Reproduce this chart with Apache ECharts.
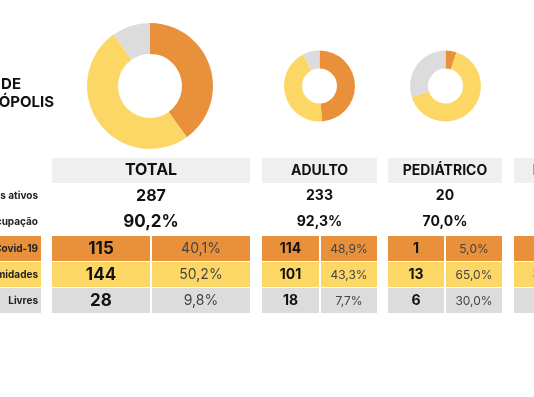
<!DOCTYPE html>
<html>
<head>
<meta charset="utf-8">
<style>
    html, body { margin: 0; padding: 0; background: #fff; }
    #leitos-chart { width: 534px; height: 397px; }
</style>
</head>
<body>
<div id="leitos-chart"></div>
<script src="https://cdn.jsdelivr.net/npm/echarts@6/dist/echarts.min.js"></script>
<script>
    var grupos = ['TOTAL', 'ADULTO', 'PEDIÁTRICO', 'NEONATAL'];
    var leitosAtivos = [287, 233, 20, 34];
    var taxaOcupacao = ['90,2%', '92,3%', '70,0%', '88,2%'];
    var covid = [115, 114, 1, 0];
    var covidPct = ['40,1%', '48,9%', '5,0%', '0,0%'];
    var outras = [144, 101, 13, 30];
    var outrasPct = ['50,2%', '43,3%', '65,0%', '88,2%'];
    var livres = [28, 18, 6, 4];
    var livresPct = ['9,8%', '7,7%', '30,0%', '11,8%'];
    var rotulosLinhas = ['Leitos ativos', 'Taxa de ocupação', 'Covid-19', 'Outras enfermidades', 'Livres'];
    var titulo = ['LEITOS DE', 'UTI FLORIANÓPOLIS'];

    var cores = ['#E8913A', '#FDD766', '#DCDCDC'];
    var corCabecalho = '#EFEFEF';
    var fonte = 'Inter, "Noto Sans", sans-serif';

    // layout das colunas
    var colX = [52, 262, 388, 514];
    var colW = [198, 115, 114, 114];
    var centros = [[150, 86], [319.5, 86], [445.5, 86], [571, 86]];
    var raios = [[32, 63], [17.5, 35.5], [17.5, 35.5], [17.5, 35.5]];
    var linhasY = [236, 262, 288];
    var alturaLinha = 25;

    var myChart = echarts.init(document.getElementById('leitos-chart'), null, {renderer: 'canvas'});

    var series = grupos.map(function (g, i) {
        return {
            name: g,
            type: 'pie',
            center: centros[i],
            radius: raios[i],
            startAngle: 90,
            silent: true,
            animation: false,
            label: {show: false},
            labelLine: {show: false},
            data: [
                {name: 'Covid-19', value: covid[i], itemStyle: {color: cores[0]}},
                {name: 'Outras enfermidades', value: outras[i], itemStyle: {color: cores[1]}},
                {name: 'Livres', value: livres[i], itemStyle: {color: cores[2]}}
            ]
        };
    });

    var elementos = [];
    // titulo
    elementos.push({type: 'text', x: 21, y: 84, style: {text: titulo[0], font: 'bold 15px ' + fonte, fill: '#111', align: 'right', verticalAlign: 'middle'}});
    elementos.push({type: 'text', x: 54, y: 102, style: {text: titulo[1], font: 'bold 15px ' + fonte, fill: '#111', align: 'right', verticalAlign: 'middle'}});

    // rotulos da esquerda
    var rotY = [196, 222, 248.5, 274.5, 300.5];
    linhasY.forEach(function (y, k) {
        elementos.push({type: 'rect', shape: {x: 0, y: y, width: 41, height: alturaLinha}, style: {fill: cores[k]}});
    });
    rotulosLinhas.forEach(function (r, k) {
        elementos.push({type: 'text', x: 38, y: rotY[k], style: {text: r, font: 'bold 10px ' + fonte, fill: '#222', align: 'right', verticalAlign: 'middle'}});
    });

    grupos.forEach(function (g, i) {
        var x = colX[i], w = colW[i];
        var grande = i === 0;
        var meio = Math.round(w / 2);
        var cx = x + w / 2;
        elementos.push({type: 'rect', shape: {x: x, y: 158, width: w, height: 25}, style: {fill: corCabecalho}});
        elementos.push({type: 'text', x: cx, y: 170.5, style: {text: g, font: 'bold ' + (grande ? 16 : 14) + 'px ' + fonte, fill: '#111', align: 'center', verticalAlign: 'middle'}});
        elementos.push({type: 'text', x: cx, y: 196, style: {text: String(leitosAtivos[i]), font: 'bold ' + (grande ? 16 : 14) + 'px ' + fonte, fill: '#111', align: 'center', verticalAlign: 'middle'}});
        elementos.push({type: 'text', x: cx, y: 222, style: {text: taxaOcupacao[i], font: 'bold ' + (grande ? 17 : 14) + 'px ' + fonte, fill: '#111', align: 'center', verticalAlign: 'middle'}});
        var valores = [covid[i], outras[i], livres[i]];
        var pcts = [covidPct[i], outrasPct[i], livresPct[i]];
        linhasY.forEach(function (y, k) {
            elementos.push({type: 'rect', shape: {x: x, y: y, width: meio - 1, height: alturaLinha}, style: {fill: cores[k]}});
            elementos.push({type: 'rect', shape: {x: x + meio + 1, y: y, width: w - meio - 1, height: alturaLinha}, style: {fill: cores[k]}});
            elementos.push({type: 'text', x: x + (meio - 1) / 2, y: y + alturaLinha / 2 + 0.5, style: {text: String(valores[k]), font: 'bold ' + (grande ? 17 : 14) + 'px ' + fonte, fill: '#111', align: 'center', verticalAlign: 'middle'}});
            elementos.push({type: 'text', x: x + meio + 1 + (w - meio - 1) / 2, y: y + alturaLinha / 2 + 0.5, style: {text: pcts[k], font: (grande ? 14 : 12) + 'px ' + fonte, fill: '#444', align: 'center', verticalAlign: 'middle'}});
        });
    });

    var option = {
        backgroundColor: '#fff',
        animation: false,
        series: series,
        graphic: {elements: elementos}
    };
    myChart.setOption(option);
</script>
</body>
</html>
